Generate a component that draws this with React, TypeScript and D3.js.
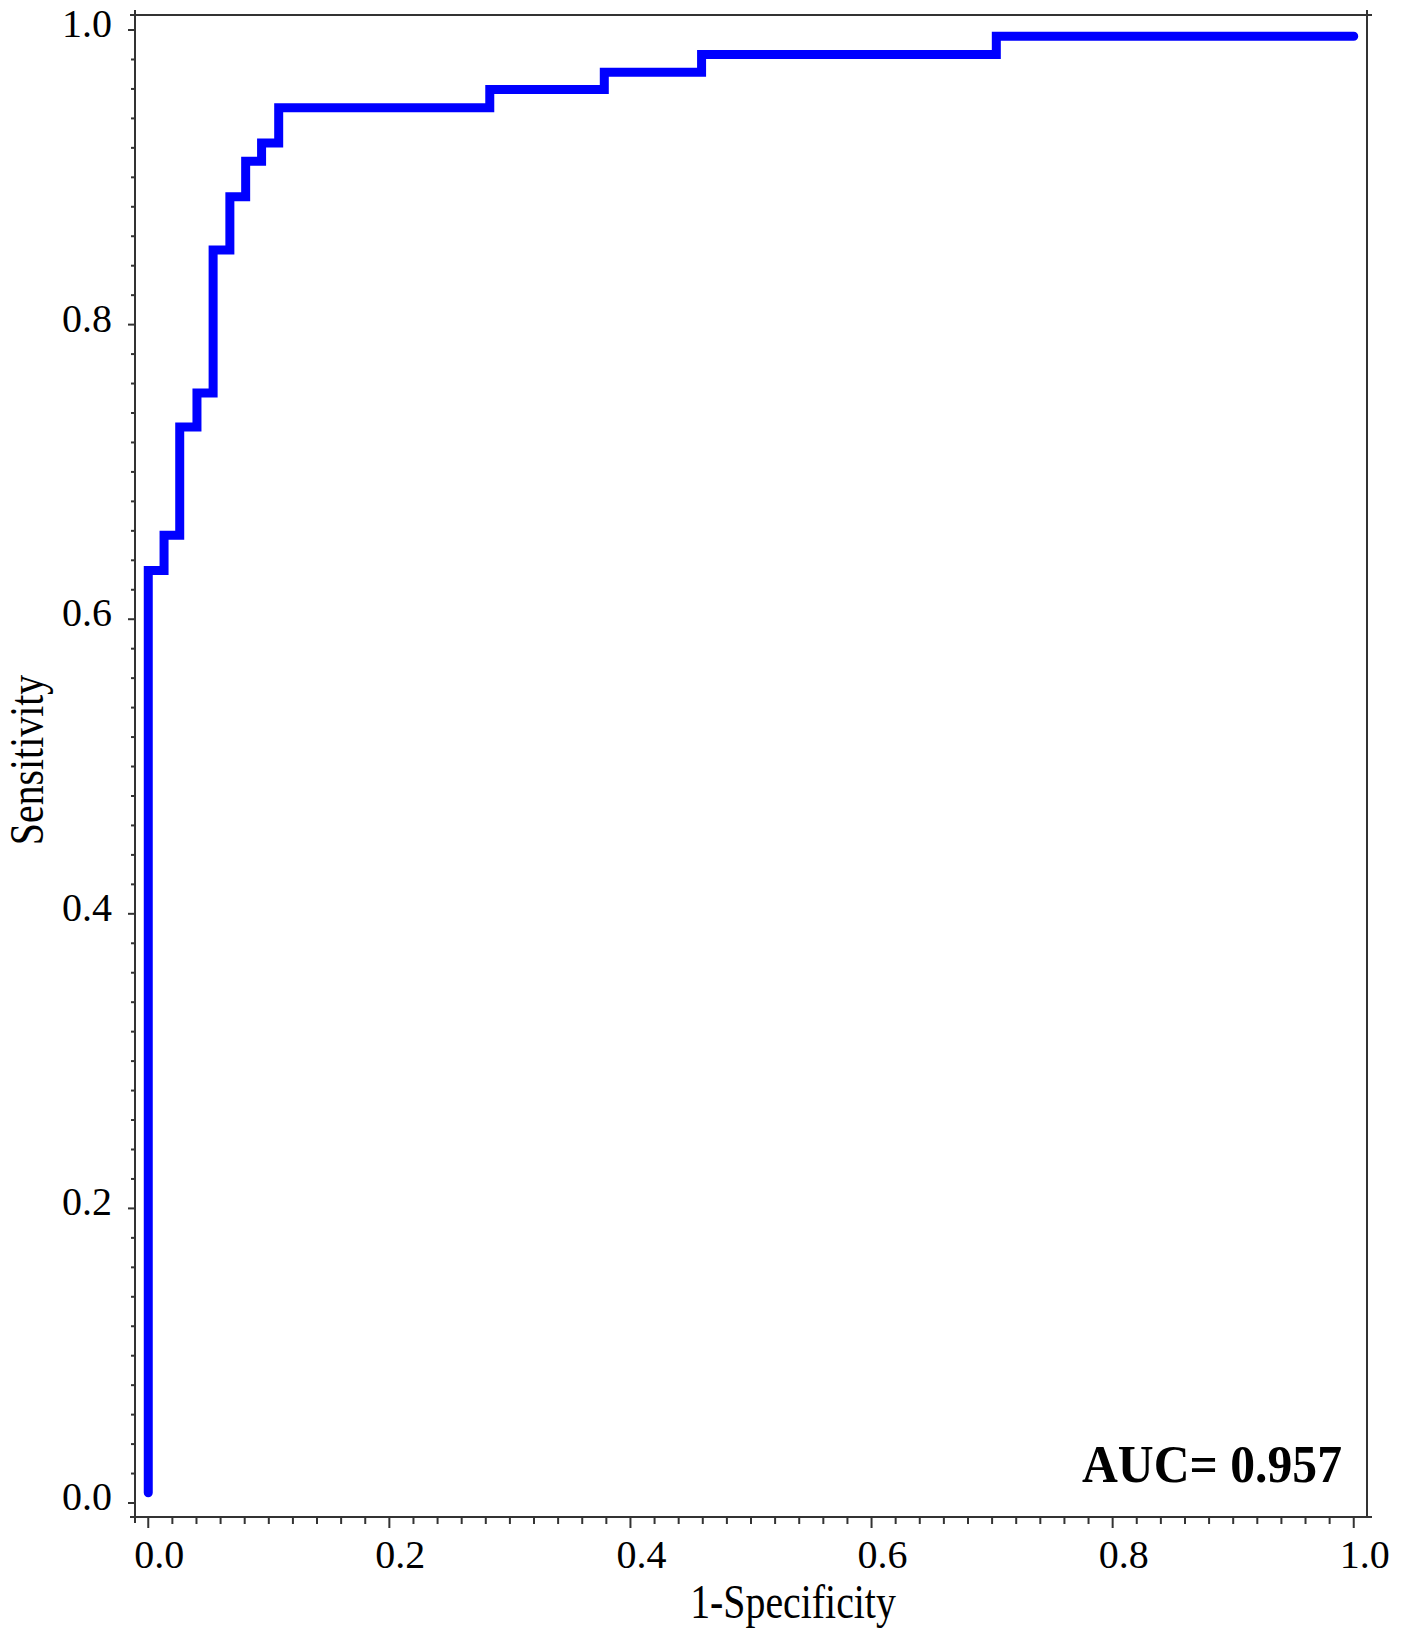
import * as d3 from "d3";
import React, { useEffect, useRef } from "react";

// ROC curve step points
const fpr = [0, 0, 0.0131, 0.0261, 0.0404, 0.0538, 0.0677, 0.0808, 0.094, 0.1082, 0.2833, 0.3783, 0.459, 0.7035, 1.0];
const tpr = [0.007, 0.633, 0.657, 0.7305, 0.7536, 0.8506, 0.8868, 0.9109, 0.9233, 0.9472, 0.9596, 0.9714, 0.9834, 0.9958, 0.9958];

const majorTicks = [0, 0.2, 0.4, 0.6, 0.8, 1.0];
const minorTicks = d3.range(0, 51).map(i => i / 50);
const aucLabel = "AUC= 0.957";
const xTitle = "1-Specificity";
const yTitle = "Sensitivity";

const FONT = "'Liberation Serif', 'Times New Roman', serif";

const App = () => {
  const svgRef = useRef<SVGSVGElement>(null);

  useEffect(() => {
    const w = 1410;
    const h = 1629;
    const left = 135, right = 1367, top = 15, bottom = 1517;

    const x = d3.scaleLinear().domain([-0.011, 1.011]).range([left, right]);
    const y = d3.scaleLinear().domain([-0.0095, 1.0102]).range([bottom, top]);

    const svg = d3.select(svgRef.current).attr("width", w).attr("height", h);
    svg.selectAll("*").remove();

    svg.append("rect").attr("width", w).attr("height", h).attr("fill", "white");

    const axisColor = "#333";
    const frame = svg.append("g").attr("stroke", axisColor).attr("stroke-width", 2);
    // frame lines, slightly overshooting at the corners
    frame.append("line").attr("x1", left).attr("x2", left).attr("y1", top - 5).attr("y2", bottom + 6);
    frame.append("line").attr("x1", left - 5).attr("x2", right + 5).attr("y1", bottom).attr("y2", bottom);
    frame.append("line").attr("x1", left - 5).attr("x2", right + 5).attr("y1", top).attr("y2", top);
    frame.append("line").attr("x1", right).attr("x2", right).attr("y1", top - 5).attr("y2", bottom + 1);

    const isMajor = (v: number) => Math.abs(v * 5 - Math.round(v * 5)) < 1e-6;

    // x ticks
    frame.selectAll(".xt")
      .data(minorTicks)
      .enter()
      .append("line")
      .attr("x1", d => x(d))
      .attr("x2", d => x(d))
      .attr("y1", bottom)
      .attr("y2", d => bottom + (isMajor(d) ? 11 : 7));

    // y ticks
    frame.selectAll(".yt")
      .data(minorTicks)
      .enter()
      .append("line")
      .attr("y1", d => y(d))
      .attr("y2", d => y(d))
      .attr("x1", left)
      .attr("x2", d => left - (isMajor(d) ? 7 : 4));

    // tick labels
    svg.selectAll(".xl")
      .data(majorTicks)
      .enter()
      .append("text")
      .attr("x", d => x(d) + 11)
      .attr("y", 1568)
      .attr("text-anchor", "middle")
      .attr("font-family", FONT)
      .attr("font-size", 40)
      .attr("fill", "black")
      .text(d => d.toFixed(1));

    svg.selectAll(".yl")
      .data(majorTicks)
      .enter()
      .append("text")
      .attr("x", 112)
      .attr("y", d => y(d) + 7)
      .attr("text-anchor", "end")
      .attr("font-family", FONT)
      .attr("font-size", 40)
      .attr("fill", "black")
      .text(d => d.toFixed(1));

    // axis titles
    svg.append("text")
      .attr("transform", "translate(793,1618) scale(0.83,1)")
      .attr("text-anchor", "middle")
      .attr("font-family", FONT)
      .attr("font-size", 48)
      .attr("fill", "black")
      .text(xTitle);

    svg.append("text")
      .attr("transform", "translate(43,760) rotate(-90) scale(0.83,1)")
      .attr("text-anchor", "middle")
      .attr("font-family", FONT)
      .attr("font-size", 48)
      .attr("fill", "black")
      .text(yTitle);

    // curve
    const pts = fpr.map((f, i) => [f, tpr[i]] as [number, number]);
    const line = d3.line<[number, number]>()
      .x(d => x(d[0]))
      .y(d => y(d[1]))
      .curve(d3.curveStepAfter);

    svg.append("path")
      .attr("d", line(pts))
      .attr("fill", "none")
      .attr("stroke", "#0000ff")
      .attr("stroke-width", 9)
      .attr("stroke-linecap", "round")
      .attr("stroke-linejoin", "miter");

    // AUC annotation
    svg.append("text")
      .attr("transform", "translate(1082,1482) scale(0.955,1)")
      .attr("font-family", FONT)
      .attr("font-weight", "bold")
      .attr("font-size", 52)
      .attr("fill", "black")
      .text(aucLabel);
  }, []);

  return (
    <svg ref={svgRef} style={{ position: "absolute", left: 0, top: 0, display: "block" }} />
  );
};

export default App;
